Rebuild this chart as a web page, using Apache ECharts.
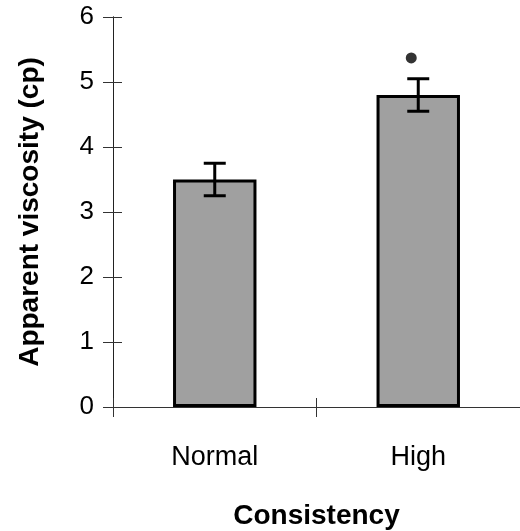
<!DOCTYPE html>
<html><head><meta charset="utf-8">
<script src="https://cdn.jsdelivr.net/npm/echarts@6/dist/echarts.min.js"></script>
<style>html,body{margin:0;padding:0;background:#fff}#c{width:520px;height:531px}</style>
</head><body><div id="c"></div>
<script>
var categories = ['Normal', 'High'];
var means = [3.5, 4.8];
var errors = [0.25, 0.25];
var markers = [[1, 5.37]];
var yTicks = [0, 1, 2, 3, 4, 5, 6];

var chart = echarts.init(document.getElementById('c'));
var font = 'Liberation Sans, Arial, sans-serif';
var baseY = {
  type: 'value', min: 0, max: 6, interval: 1, position: 'left',
  axisLine: {show: true, lineStyle: {color: '#222', width: 1}},
  splitLine: {show: false}
};
chart.setOption({
  animation: false,
  grid: {left: 113, right: 0, top: 17, bottom: 124, containLabel: false, outerBoundsMode: 'none'},
  xAxis: [{
    type: 'category', data: categories,
    name: 'Consistency', nameLocation: 'middle', nameGap: 95,
    nameTextStyle: {fontFamily: font, fontSize: 28, fontWeight: 'bold', color: '#000'},
    axisLine: {lineStyle: {color: '#333', width: 1}},
    axisTick: {show: true, length: 10, lineStyle: {color: '#333'}},
    axisLabel: {fontFamily: font, fontSize: 27, color: '#000', margin: 37}
  }, {
    type: 'category', data: categories, position: 'bottom',
    axisLine: {show: false},
    axisTick: {show: true, inside: true, length: 9, lineStyle: {color: '#333'}},
    axisLabel: {show: false}
  }],
  yAxis: [Object.assign({}, baseY, {
    name: 'Apparent viscosity (cp)', nameLocation: 'middle', nameGap: 69,
    nameTextStyle: {fontFamily: font, fontSize: 28, fontWeight: 'bold', color: '#000'},
    axisTick: {show: true, length: 10, lineStyle: {color: '#333'}},
    axisLabel: {fontFamily: font, fontSize: 26, color: '#000', margin: 19,
      formatter: function (v) { return yTicks.indexOf(v) >= 0 ? String(v) : ''; }}
  }), Object.assign({}, baseY, {
    axisTick: {show: true, inside: true, length: 9, lineStyle: {color: '#333'}},
    axisLabel: {show: false}
  })],
  series: [{
    type: 'bar', data: means, barWidth: '41%',
    itemStyle: {color: '#a0a0a0', borderColor: '#000', borderWidth: 3},
    z: 2
  }, {
    type: 'custom',
    data: means.map(function (m, i) { return [i, m - errors[i], m + errors[i]]; }),
    renderItem: function (params, api) {
      var lo = api.coord([api.value(0), api.value(1)]);
      var hi = api.coord([api.value(0), api.value(2)]);
      var w = 11;
      var st = {stroke: '#000', lineWidth: 3};
      return {type: 'group', children: [
        {type: 'line', shape: {x1: hi[0], y1: hi[1], x2: lo[0], y2: lo[1]}, style: st},
        {type: 'line', shape: {x1: hi[0] - w, y1: hi[1], x2: hi[0] + w, y2: hi[1]}, style: st},
        {type: 'line', shape: {x1: lo[0] - w, y1: lo[1], x2: lo[0] + w, y2: lo[1]}, style: st}
      ]};
    },
    z: 5
  }, {
    type: 'scatter', data: markers, symbol: 'circle', symbolSize: 11,
    symbolOffset: [-7, 0],
    itemStyle: {color: '#000'}, z: 5
  }]
});
</script></body></html>
